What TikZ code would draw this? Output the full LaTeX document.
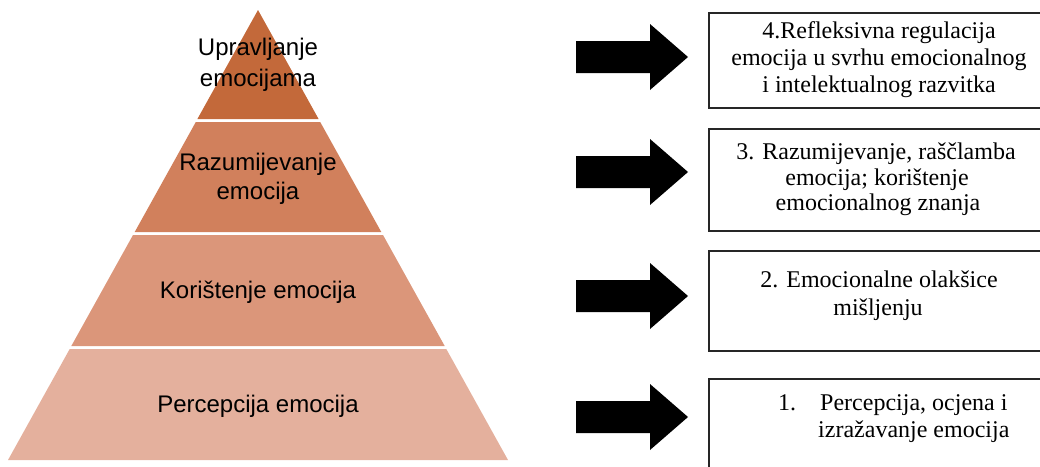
\documentclass[tikz,border=0pt]{standalone}
\usepackage{fontspec}
\setmainfont{Liberation Serif}
\newfontfamily\pyrfont{Liberation Sans}
\definecolor{bandA}{HTML}{C3693A}
\definecolor{bandB}{HTML}{D1805C}
\definecolor{bandC}{HTML}{DB967A}
\definecolor{bandD}{HTML}{E4B09D}
\newcommand\blockarrowat[2]{%
  \fill[black] (576,{#2-16}) -- (650,{#2-16}) -- (650,{#2-33}) -- (688,#2)
    -- (650,{#2+33}) -- (650,{#2+16}) -- (576,{#2+16}) -- cycle
    coordinate (#1) at (688,#2);}
\begin{document}
\begin{tikzpicture}[x=1pt,y=-1pt,
  pyrtext/.style={font=\pyrfont\fontsize{24}{28}\selectfont, anchor=base, inner sep=0pt},
  boxtext/.style={font=\fontsize{24}{28}\selectfont, anchor=base, inner sep=0pt},
  infobox/.style={draw=black!85, line width=1.6pt, anchor=north west, inner sep=0pt}]
\useasboundingbox (0,0) rectangle (1040,466);
\clip (0,0) rectangle (1040,466);
% pyramid bands
\fill[bandA] (258,10) -- (318.6,119) -- (197.4,119) -- cycle;
\fill[bandB] (195.8,122) -- (320.2,122) -- (381.3,232) -- (134.7,232) -- cycle;
\fill[bandC] (133,235) -- (383,235) -- (444.7,346) -- (71.3,346) -- cycle;
\fill[bandD] (69.7,349) -- (446.3,349) -- (508,460) -- (8,460) -- cycle;
% pyramid labels
\node[pyrtext] (p4a) at (258,55) {Upravljanje};
\node[pyrtext] (p4b) at (258,86) {emocijama};
\node[pyrtext] (p3a) at (258,170) {Razumijevanje};
\node[pyrtext] (p3b) at (258,199) {emocija};
\node[pyrtext] (p2) at (258,298) {Korištenje emocija};
\node[pyrtext] (p1) at (258,412) {Percepcija emocija};
% arrows
\blockarrowat{a4}{57}
\blockarrowat{a3}{172}
\blockarrowat{a2}{296}
\blockarrowat{a1}{417}
% boxes
\node[infobox, minimum width=340pt, minimum height=95pt] (b4) at (708,12) {};
\node[infobox, minimum width=340pt, minimum height=102pt] (b3) at (708,128) {};
\node[infobox, minimum width=340pt, minimum height=100pt] (b2) at (708,250) {};
\node[infobox, minimum width=340pt, minimum height=100pt] (b1) at (708,378) {};
% box texts
\node[boxtext] (t4a) at (879,38) {4.Refleksivna regulacija};
\node[boxtext] (t4b) at (879,65.5) {emocija u svrhu emocionalnog};
\node[boxtext] (t4c) at (879,92.5) {i intelektualnog razvitka};
\node[boxtext] (t3a) at (876,159.5) {3. Razumijevanje, raščlamba};
\node[boxtext] (t3b) at (877,185) {emocija; korištenje};
\node[boxtext] (t3c) at (878,210.5) {emocionalnog znanja};
\node[boxtext] (t2a) at (879,287) {2. Emocionalne olakšice};
\node[boxtext] (t2b) at (878,315) {mišljenju};
\node[boxtext, anchor=base west] (t1n) at (778,410) {1.};
\node[boxtext, anchor=base west] (t1a) at (820,410) {Percepcija, ocjena i};
\node[boxtext, anchor=base west] (t1b) at (818,437) {izražavanje emocija};
\end{tikzpicture}
\end{document}
